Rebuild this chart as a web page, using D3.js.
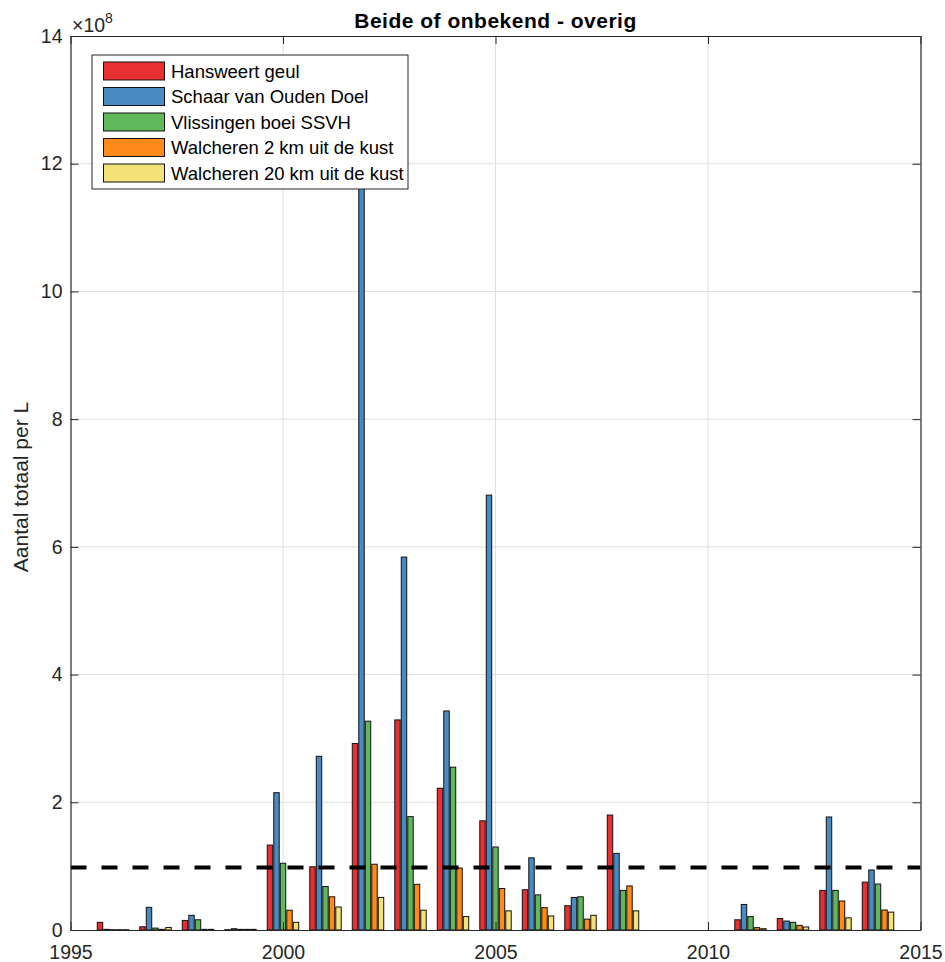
<!DOCTYPE html>
<html><head><meta charset="utf-8">
<script src="https://cdn.jsdelivr.net/npm/d3@7"></script>
<style>body{margin:0;background:#fff;}svg{display:block;font-family:"Liberation Sans",Arial,sans-serif;}</style>
</head><body>
<script>
const years = [1996,1997,1998,1999,2000,2001,2002,2003,2004,2005,2006,2007,2008,2009,2010,2011,2012,2013,2014];
const seriesNames = ["Hansweert geul","Schaar van Ouden Doel","Vlissingen boei SSVH","Walcheren 2 km uit de kust","Walcheren 20 km uit de kust"];
const seriesColors = ["#E83033","#4A8AC2","#5FB85A","#FF8A19","#F3E278"];
// values in units of 1e8
const hansweert = [0.12,0.05,0.15,0.005,1.33,0.99,2.92,3.29,2.22,1.71,0.63,0.38,1.80,0,0,0.16,0.18,0.62,0.75];
const schaar    = [0.01,0.355,0.23,0.02,2.15,2.72,12.8,5.84,3.43,6.81,1.13,0.51,1.20,0,0,0.40,0.14,1.77,0.94];
const vlissingen= [0.005,0.03,0.16,0.01,1.045,0.68,3.27,1.775,2.55,1.30,0.55,0.52,0.62,0,0,0.21,0.12,0.62,0.72];
const walch2    = [0.005,0.01,0.01,0.01,0.31,0.52,1.03,0.715,0.97,0.65,0.35,0.17,0.69,0,0,0.037,0.073,0.454,0.313];
const walch20   = [0.005,0.04,0.01,0.01,0.12,0.36,0.51,0.31,0.21,0.30,0.22,0.23,0.30,0,0,0.02,0.047,0.19,0.28];
const seriesValues = [hansweert, schaar, vlissingen, walch2, walch20];
const threshold = 0.98;
const xTicks = [1995,2000,2005,2010,2015];
const yTicks = [0,2,4,6,8,10,12,14];
const titleText = "Beide of onbekend - overig";
const yLabelText = "Aantal totaal per L";

const W=945,H=962;
const L=70.5,R=920.5,T=36,B=930;
const svg=d3.select("body").append("svg").attr("width",W).attr("height",H);
const x=d3.scaleLinear().domain([1995,2015]).range([L,R]);
const y=d3.scaleLinear().domain([0,14]).range([B,T]);
const axisColor="#262626";

// grid
svg.append("g").selectAll("line").data(xTicks.slice(1,-1)).join("line")
 .attr("x1",d=>x(d)).attr("x2",d=>x(d)).attr("y1",T).attr("y2",B)
 .attr("stroke","#dfdfdf").attr("stroke-width",1);
svg.append("g").selectAll("line").data(yTicks.slice(1,-1)).join("line")
 .attr("y1",d=>y(d)).attr("y2",d=>y(d)).attr("x1",L).attr("x2",R)
 .attr("stroke","#dfdfdf").attr("stroke-width",1);

svg.append("clipPath").attr("id","clip").append("rect").attr("x",L).attr("y",T).attr("width",R-L).attr("height",B-T);
const gBars=svg.append("g").attr("clip-path","url(#clip)");
const slot=0.153, bw=0.128;
seriesValues.forEach((vals,i)=>{
  gBars.append("g").selectAll("rect").data(years.map((yr,j)=>({yr,v:vals[j]})).filter(d=>d.v>0)).join("rect")
   .attr("x",d=>x(d.yr+(i-2)*slot-bw/2)).attr("width",x(bw)-x(0))
   .attr("y",d=>y(d.v)).attr("height",d=>y(0)-y(d.v))
   .attr("fill",seriesColors[i]).attr("stroke","#111").attr("stroke-width",1);
});
// threshold line
gBars.append("line").attr("x1",L).attr("x2",R).attr("y1",y(threshold)).attr("y2",y(threshold))
 .attr("stroke","#000").attr("stroke-width",4).attr("stroke-dasharray","16,15");

// axes box
const xb=d3.axisBottom(x).tickValues(xTicks).tickFormat(d3.format("d")).tickSizeInner(-8).tickSizeOuter(0).tickPadding(15);
const gx=svg.append("g").attr("transform",`translate(0,${B})`).call(xb);
const yl=d3.axisLeft(y).tickValues(yTicks).tickSizeInner(-8).tickSizeOuter(0).tickPadding(8);
const gy=svg.append("g").attr("transform",`translate(${L},0)`).call(yl);
const xt=d3.axisTop(x).tickValues(xTicks).tickFormat("").tickSizeInner(-8).tickSizeOuter(0);
const gxt=svg.append("g").attr("transform",`translate(0,${T})`).call(xt);
const yr=d3.axisRight(y).tickValues(yTicks).tickFormat("").tickSizeInner(-8).tickSizeOuter(0);
const gyr=svg.append("g").attr("transform",`translate(${R},0)`).call(yr);
[gx,gy,gxt,gyr].forEach(g=>{
  g.select(".domain").attr("stroke",axisColor).attr("stroke-width",1.2);
  g.selectAll(".tick line").attr("stroke",axisColor);
  g.selectAll("text").attr("fill",axisColor).style("font-size","19.5px").style("font-family","Liberation Sans, Arial, sans-serif");
});

// exponent
const ex=svg.append("text").attr("x",72).attr("y",32).attr("fill",axisColor).style("font-size","19.5px");
ex.append("tspan").text("×10");
ex.append("tspan").attr("dy",-9).style("font-size","14px").text("8");

// title
svg.append("text").attr("x",(L+R)/2).attr("y",28).attr("text-anchor","middle")
 .style("font-size","21px").style("font-weight","bold").style("letter-spacing","0.5px").attr("fill","#000").text(titleText);
// y label
svg.append("text").attr("transform",`translate(28,${(T+B)/2+4}) rotate(-90)`).attr("text-anchor","middle")
 .style("font-size","21px").attr("fill",axisColor).text(yLabelText);

// legend
const lg=svg.append("g");
lg.append("rect").attr("x",92).attr("y",55).attr("width",316).attr("height",134).attr("fill","#fff").attr("stroke",axisColor).attr("stroke-width",1);
seriesNames.forEach((n,i)=>{
  const cy=71+i*25.5;
  lg.append("rect").attr("x",103.5).attr("y",cy-9).attr("width",61).attr("height",18).attr("fill",seriesColors[i]).attr("stroke","#111").attr("stroke-width",1);
  lg.append("text").attr("x",171).attr("y",cy+6.5).style("font-size","18.5px").attr("fill","#000").text(n);
});
</script>
</body></html>
